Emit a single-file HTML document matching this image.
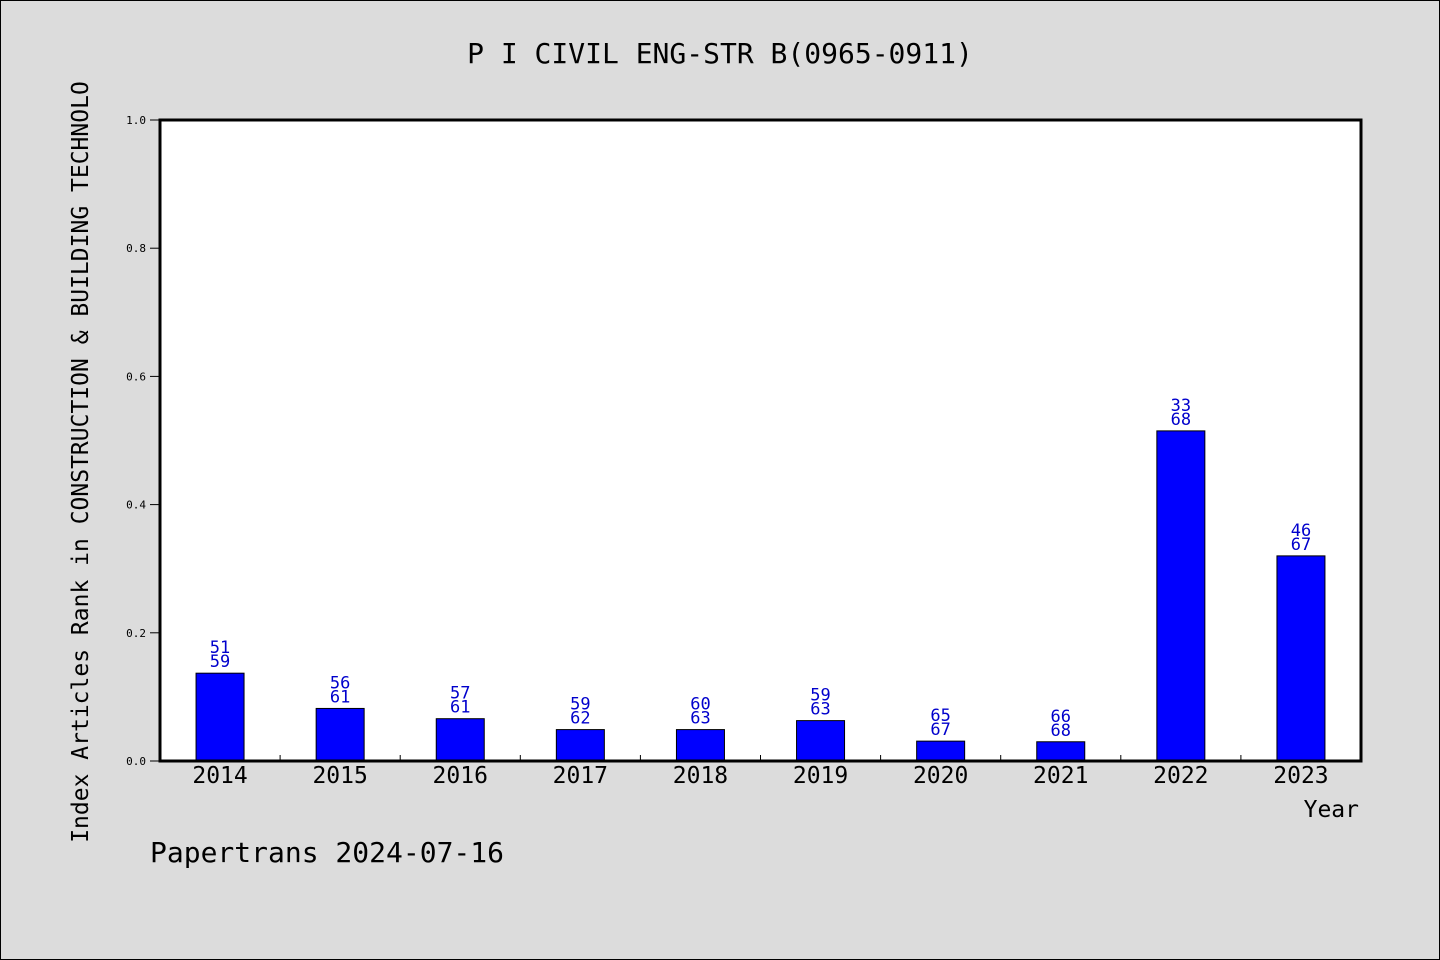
<!DOCTYPE html>
<html><head><meta charset="utf-8"><style>
body{margin:0;background:#dcdcdc;}
svg{display:block;font-family:"WenQuanYi Zen Hei","DejaVu Sans Mono",monospace;}
</style></head><body>
<svg id="c" width="1440" height="960">
<rect x="0.5" y="0.5" width="1439" height="959" fill="#dcdcdc" stroke="#000"/>
<text x="720" y="63" font-size="28" text-anchor="middle">P I CIVIL ENG-STR B(0965-0911)</text>
<rect x="160" y="120" width="1201" height="641" fill="#fff"/>
<g id="marks"></g>
<rect x="160" y="120" width="1201" height="641" fill="none" stroke="#000" stroke-width="3"/>
<text transform="translate(88,462) rotate(-90)" font-size="23" text-anchor="middle">Index Articles Rank in CONSTRUCTION &amp; BUILDING TECHNOLO</text>
<text x="1359" y="817" font-size="23" text-anchor="end">Year</text>
<text x="150" y="862" font-size="28">Papertrans 2024-07-16</text>
</svg>
<script>
const years=["2014","2015","2016","2017","2018","2019","2020","2021","2022","2023"];
const values=[0.137,0.082,0.066,0.049,0.049,0.063,0.031,0.030,0.515,0.320];
const ranks=["51","56","57","59","60","59","65","66","33","46"];
const totals=["59","61","61","62","63","63","67","68","68","67"];
const yTicks=[0,0.2,0.4,0.6,0.8,1.0];
const yTickLabels=["0.0","0.2","0.4","0.6","0.8","1.0"];
const NS="http://www.w3.org/2000/svg";
const g=document.getElementById('marks');
const x0=160,x1=1361,y0=761,y1=120;
const step=(x1-x0)/years.length;
const xc=i=>x0+step*(i+0.5);
const ys=v=>y0-(y0-y1)*v;
function mk(t,a,p){const e=document.createElementNS(NS,t);for(const k in a)e.setAttribute(k,a[k]);(p||g).appendChild(e);return e;}
yTicks.forEach((v,i)=>{
 const l=mk('line',{x1:x0-10,x2:x0,y1:ys(v),y2:ys(v),stroke:'#000'});
 
 
 const t=mk('text',{x:x0-8-6,y:ys(v)+4,'font-size':11,'text-anchor':'end'});
 t.textContent=yTickLabels[i];
 
 
});
years.forEach((yr,i)=>{
 if(i>0){const l=mk('line',{x1:x0+step*i,x2:x0+step*i,y1:y0,y2:y0-6,stroke:'#000'});
 
 }
 const top=ys(values[i]);
 const b=mk('rect',{x:xc(i)-24,y:top,width:48,height:y0-top,fill:'#0000ff',stroke:'#000','stroke-width':1});
 
 
 const t1=mk('text',{x:xc(i),y:top-20,'font-size':17,'text-anchor':'middle',fill:'#0000cc'});
 t1.textContent=ranks[i];
 
 
 const t2=mk('text',{x:xc(i),y:top-6,'font-size':17,'text-anchor':'middle',fill:'#0000cc'});
 t2.textContent=totals[i];
 
 
 const xl=mk('text',{x:xc(i),y:783,'font-size':23,'text-anchor':'middle'});
 xl.textContent=yr;
 
 
});
</script>
</body></html>
